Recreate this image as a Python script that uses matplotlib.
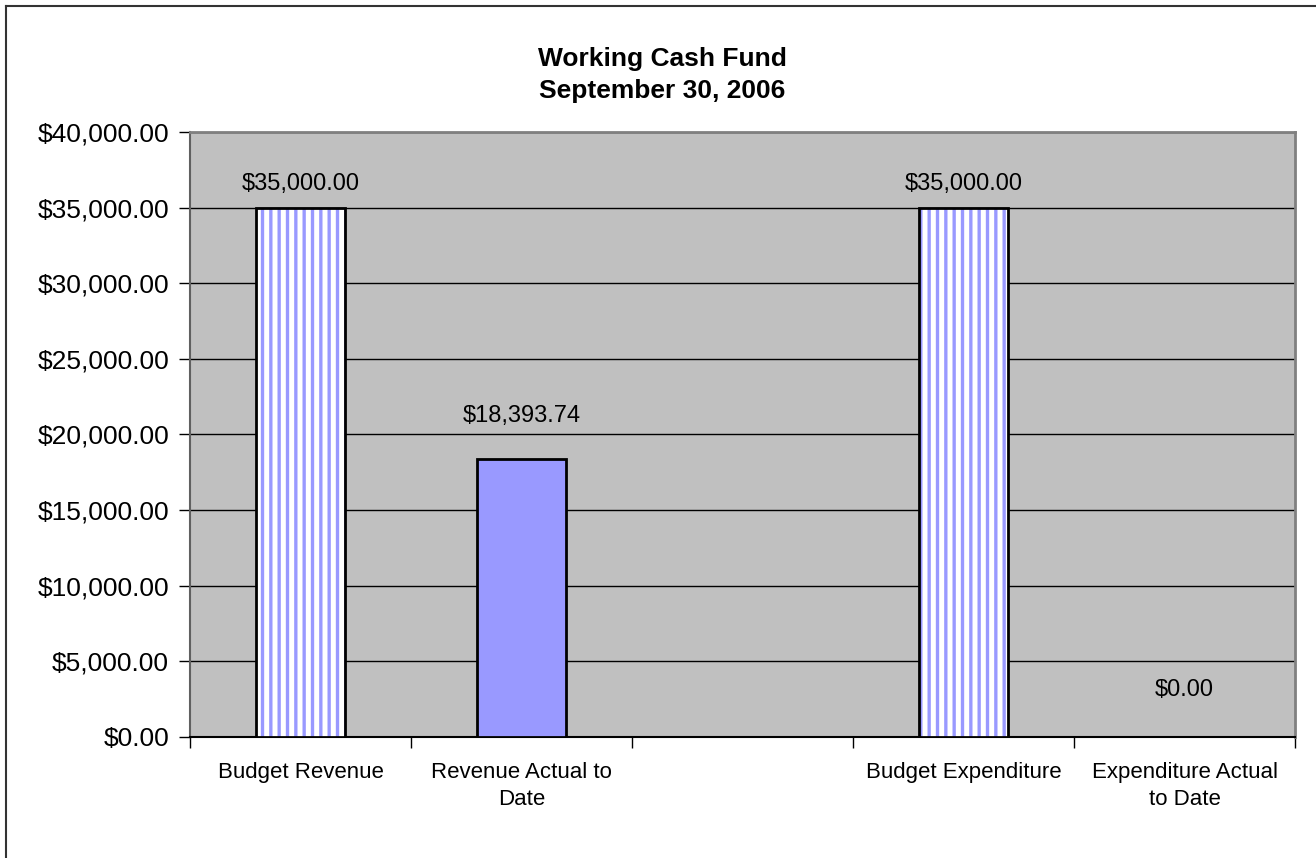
import numpy as np
import matplotlib
matplotlib.use("Agg")
import matplotlib.pyplot as plt
from matplotlib.lines import Line2D
from matplotlib.ticker import FuncFormatter, MultipleLocator

plt.rcParams['font.family'] = ['Liberation Sans', 'DejaVu Sans']
plt.rcParams['hatch.linewidth'] = 2.4

# chart data
categories = ["Budget Revenue", "Revenue Actual to\nDate", "",
              "Budget Expenditure", "Expenditure Actual\nto Date"]
values = [35000.00, 18393.74, np.nan, 35000.00, 0.00]
hatched = [True, False, False, True, False]
label_offsets = [9, 23, 0, 9, 26]   # points above bar top, as Excel placed them

y_max = 40000
y_step = 5000

fig = plt.figure(figsize=(13.16, 8.58), dpi=100)
ax = fig.add_axes([190 / 1316, 1 - 737 / 858, (1295 - 190) / 1316, (737 - 132) / 858])
ax.set_facecolor('#C0C0C0')

x = np.arange(len(categories))
for i, v in enumerate(values):
    if np.isnan(v):
        continue
    if hatched[i]:
        # hatch colour follows edgecolor, so draw the stripes and the outline separately
        ax.bar(x[i], v, width=0.40, facecolor='white', edgecolor='#9999FF',
               hatch='||', linewidth=0, zorder=3)
        ax.bar(x[i], v, width=0.40, fill=False, edgecolor='black',
               linewidth=2, zorder=3.5)
    else:
        ax.bar(x[i], v, width=0.40, facecolor='#9999FF', edgecolor='black',
               linewidth=2, zorder=3)
    ax.annotate(f"${v:,.2f}", (x[i], v), xytext=(0, label_offsets[i]),
                textcoords='offset points', ha='center', va='bottom',
                fontsize=17, zorder=4)

ax.set_xlim(-0.5, len(categories) - 0.5)
ax.set_ylim(0, y_max)
ax.yaxis.set_major_locator(MultipleLocator(y_step))
ax.yaxis.set_major_formatter(FuncFormatter(lambda v, p: f"${v:,.2f}"))
ax.grid(axis='y', color='black', linewidth=1, zorder=1)
ax.set_axisbelow(True)

ax.set_xticks(x)
ax.set_xticklabels(categories, fontsize=16, linespacing=1.38)
ax.set_xticks(np.arange(-0.5, len(categories)), minor=True)
ax.tick_params(axis='x', which='major', length=0, pad=18)
ax.tick_params(axis='x', which='minor', length=8, width=1, direction='out', color='black')
ax.tick_params(axis='y', length=8, width=1, direction='out', pad=7, labelsize=19)

for side in ['top', 'right']:
    ax.spines[side].set_color('#808080')
    ax.spines[side].set_linewidth(2)
ax.spines['left'].set_color('#606060')
ax.spines['left'].set_linewidth(1.5)
ax.spines['bottom'].set_color('black')
ax.spines['bottom'].set_linewidth(1.5)

fig.text(662 / 1316, 1 - 75 / 858, "Working Cash Fund\nSeptember 30, 2006",
         ha='center', va='center', fontsize=19, fontweight='bold', linespacing=1.45)

# chart area border (left and top edges visible in the reference)
fig.add_artist(Line2D([5.5 / 1316, 5.5 / 1316], [0, 1 - 5.5 / 858], color='#333333', linewidth=1.5))
fig.add_artist(Line2D([5.5 / 1316, 1], [1 - 5.5 / 858, 1 - 5.5 / 858], color='#333333', linewidth=1.5))

fig.savefig("out.png", dpi=100)
